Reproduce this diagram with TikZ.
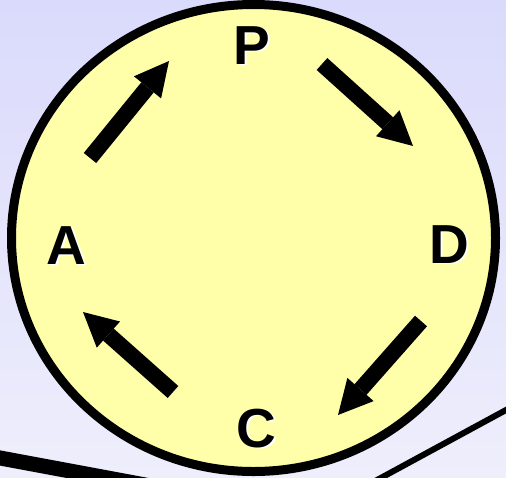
\documentclass[tikz,border=0pt]{standalone}
\usepackage{fontspec}
\setmainfont{Liberation Sans}
\usetikzlibrary{
    arrows.meta,
    positioning
}
\definecolor{bgtop}{RGB}{218,218,252}
\definecolor{bgbottom}{RGB}{238,238,252}
\definecolor{discfill}{RGB}{255,255,170}
\tikzset{
    letter/.style={font=\fontsize{55}{55}\selectfont\bfseries, inner sep=0pt},
    lettershadow/.style={letter, text=white},
    cyclearrow/.style={line width=16pt, line cap=butt,
        -{Triangle[width=35pt, length=34pt, line width=0pt]}}
}

\begin{document}
\begin{tikzpicture}[x=1pt, y=-1pt]
                        \shade[top color=bgtop, bottom color=bgbottom] (0, 0) rectangle (506, 477);
                        \useasboundingbox (0, 0) rectangle (506, 477);
                        \clip (0, 0) rectangle (506, 477);
                        \draw[line width=15pt] (-10, 456.1) -- (200, 495.2);
                        \draw[line width=6pt] (520, 402.4) -- (340, 500.1);
                        \draw[line width=9pt, fill=discfill] (253.5, 238) ellipse [x radius=242, y radius=233.5];
                        \node[lettershadow] at (253.5, 47) {P};
                        \node[lettershadow] at (451, 246) {D};
                        \node[lettershadow] at (258, 430) {C};
                        \node[lettershadow] at (68, 247) {A};
                        \node[letter] (p) at (252, 45.5) {P};
                        \node[letter] (d) at (449.5, 244.5) {D};
                        \node[letter] (c) at (256.5, 428.5) {C};
                        \node[letter] (a) at (66.5, 245.5) {A};
                        \coordinate (ap0) at (90, 158);
                        \coordinate (ap1) at (169, 61);
                        \coordinate (pd0) at (322, 64);
                        \coordinate (pd1) at (413, 146);
                        \coordinate (dc0) at (421, 321);
                        \coordinate (dc1) at (338, 415);
                        \coordinate (ca0) at (173, 392);
                        \coordinate (ca1) at (83, 312);
                        \draw[cyclearrow] (ap0) -- (ap1);
                        \draw[cyclearrow] (pd0) -- (pd1);
                        \draw[cyclearrow] (dc0) -- (dc1);
                        \draw[cyclearrow] (ca0) -- (ca1);
                    \end{tikzpicture}
\end{document}
